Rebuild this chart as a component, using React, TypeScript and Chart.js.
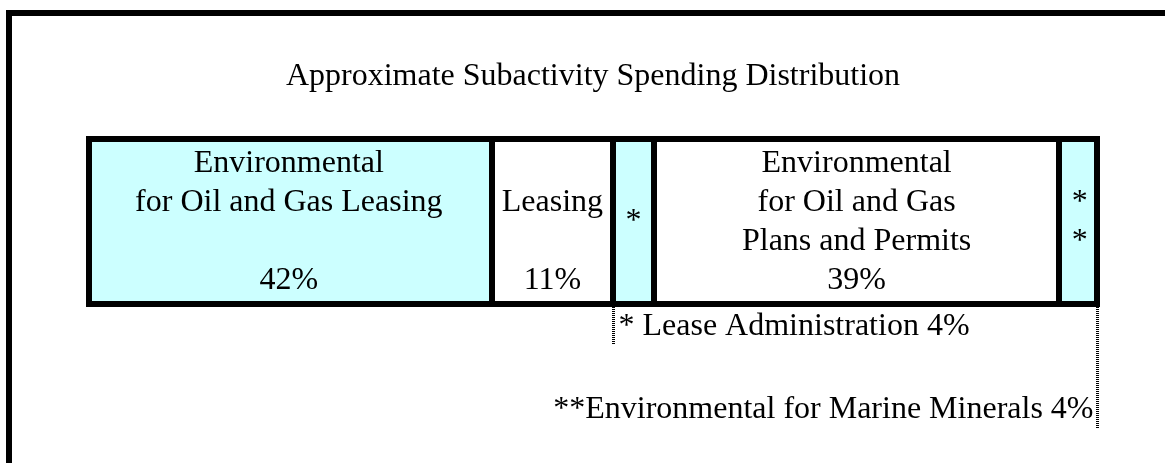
import React, { useEffect, useRef } from "react";
import { Chart, registerables } from "chart.js";

Chart.register(...registerables);

const categories = ["Subactivity"];
const segmentNames = [
  "Environmental for Oil and Gas Leasing",
  "Leasing",
  "Lease Administration",
  "Environmental for Oil and Gas Plans and Permits",
  "Environmental for Marine Minerals",
];
const segmentWidths = [40, 12, 4, 40, 4];
const segmentColors = ["#CCFFFF", "#FFFFFF", "#CCFFFF", "#FFFFFF", "#CCFFFF"];
const segmentLabelLines = [
  ["Environmental", "for Oil and Gas Leasing", "", "42%"],
  ["", "Leasing", "", "11%"],
  ["*"],
  ["Environmental", "for Oil and Gas", "Plans and Permits", "39%"],
  ["*", "*"],
];
const titleText = "Approximate Subactivity Spending Distribution";
const footnoteLease = "* Lease Administration 4%";
const footnoteMarine = "**Environmental for Marine Minerals 4%";

const FONT = '32px "Liberation Serif", "Times New Roman", serif';
const BORDER = 6;

const labelPlugin = {
  id: "segmentLabels",
  beforeDraw(chart: any) {
    const { ctx, width, height } = chart;
    ctx.save();
    ctx.fillStyle = "#FFFFFF";
    ctx.fillRect(0, 0, width, height);
    ctx.strokeStyle = "#000000";
    ctx.lineWidth = 6;
    ctx.strokeRect(9, 13, width + 100, height + 100);
    ctx.restore();
  },
  afterDatasetsDraw(chart: any) {
    const { ctx, chartArea } = chart;
    ctx.save();

    const boxes: any[] = [];
    chart.data.datasets.forEach((_: any, i: number) => {
      const el = chart.getDatasetMeta(i).data[0];
      const p = el.getProps(["x", "y", "base", "height"], true);
      boxes.push({
        left: Math.min(p.x, p.base),
        right: Math.max(p.x, p.base),
        top: p.y - p.height / 2,
        bottom: p.y + p.height / 2,
      });
    });

    // borders: outer frame of the bar and segment dividers
    const first = boxes[0];
    const lastB = boxes[boxes.length - 1];
    ctx.fillStyle = "#000000";
    const L = first.left, R = lastB.right, T = first.top, B = first.bottom;
    ctx.fillRect(L, T, R - L, BORDER);
    ctx.fillRect(L, B - BORDER, R - L, BORDER);
    ctx.fillRect(L, T, BORDER, B - T);
    ctx.fillRect(R - BORDER, T, BORDER, B - T);
    for (let i = 1; i < boxes.length; i++) {
      const x = boxes[i].left;
      ctx.fillRect(Math.round(x - BORDER / 2), T, BORDER, B - T);
    }

    ctx.font = FONT;
    ctx.fillStyle = "#000000";
    ctx.textBaseline = "alphabetic";

    // title
    ctx.textAlign = "center";
    ctx.fillText(titleText, (chartArea.left + chartArea.right) / 2, chartArea.top - 51);

    boxes.forEach((b, i) => {
      const lines = segmentLabelLines[i];
      const cx = (b.left + b.right) / 2;
      const cy = (b.top + b.bottom) / 2;
      const lh = 39;
      lines.forEach((line, j) => {
        if (!line) return;
        const by = cy + (j - (lines.length - 1) / 2) * lh + 8.5;
        ctx.textAlign = "center";
        ctx.fillText(line, cx, by);
      });
    });

    // footnotes with dotted leader lines
    const b2 = boxes[2];
    const b4 = boxes[4];
    ctx.setLineDash([1, 1]);
    ctx.lineWidth = 3;
    ctx.strokeStyle = "#000000";

    const x1 = Math.round(b2.left) + 0.5;
    ctx.beginPath();
    ctx.moveTo(x1, b2.bottom);
    ctx.lineTo(x1, b2.bottom + 38);
    ctx.stroke();
    ctx.textAlign = "left";
    ctx.fillText(footnoteLease, x1 + 5, b2.bottom + 28);

    const x2 = Math.round(b4.right - 3) + 0.5;
    ctx.beginPath();
    ctx.moveTo(x2, b4.bottom);
    ctx.lineTo(x2, b4.bottom + 121);
    ctx.stroke();
    ctx.textAlign = "right";
    ctx.fillText(footnoteMarine, x2 - 4, b4.bottom + 111);

    ctx.restore();
  },
};

export default function App() {
  const ref = useRef<HTMLCanvasElement | null>(null);

  useEffect(() => {
    if (!ref.current) return;
    const chart = new Chart(ref.current, {
      type: "bar",
      data: {
        labels: categories,
        datasets: segmentWidths.map((v, i) => ({
          label: segmentNames[i],
          data: [v],
          backgroundColor: segmentColors[i],
          borderWidth: 0,
          barPercentage: 1,
          categoryPercentage: 1,
          inflateAmount: 0,
        })),
      },
      options: {
        indexAxis: "y",
        responsive: false,
        animation: false,
        devicePixelRatio: 1,
        layout: { padding: { left: 86, right: 65, top: 136, bottom: 156 } },
        scales: {
          x: { stacked: true, min: 0, max: 100, display: false },
          y: { stacked: true, display: false },
        },
        plugins: {
          legend: { display: false },
          tooltip: { enabled: false },
          title: { display: false },
        },
      },
      plugins: [labelPlugin],
    } as any);
    return () => chart.destroy();
  }, []);

  return (
    <div style={{ position: "absolute", left: 0, top: 0, width: 1165, height: 463, overflow: "hidden" }}>
      <canvas ref={ref} width={1165} height={463} style={{ width: 1165, height: 463, display: "block" }} />
    </div>
  );
}
